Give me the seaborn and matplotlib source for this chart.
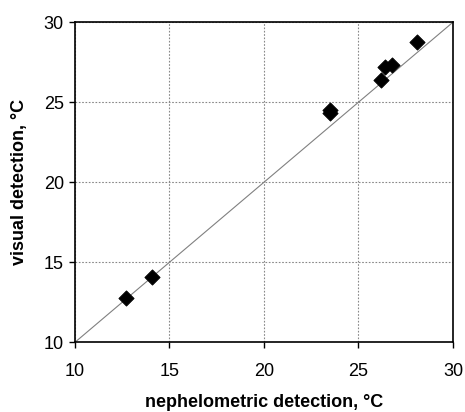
import numpy as np
import pandas as pd
import seaborn as sns
import matplotlib
matplotlib.use("Agg")
import matplotlib.pyplot as plt

nephelometric = [12.7, 14.1, 23.5, 23.5, 26.2, 26.4, 26.8, 28.1]
visual = [12.8, 14.1, 24.3, 24.5, 26.4, 27.2, 27.3, 28.75]

df = pd.DataFrame({"nephelometric": nephelometric, "visual": visual})

sns.set_style("white")
plt.rcParams["font.family"] = ["Liberation Sans", "DejaVu Sans"]
plt.rcParams["text.color"] = "black"
plt.rcParams["axes.labelcolor"] = "black"
plt.rcParams["xtick.color"] = "black"
plt.rcParams["ytick.color"] = "black"

fig = plt.figure(figsize=(4.65, 4.12), dpi=100)
ax = fig.add_axes([0.161, 0.169, 0.813, 0.777])

# 1:1 reference line
ax.plot([10, 30], [10, 30], color="#808080", lw=0.8, zorder=1)
sns.scatterplot(data=df, x="nephelometric", y="visual", marker="D", s=60,
                color="black", edgecolor="black", ax=ax, zorder=3)

ax.set_xlim(10, 30)
ax.set_ylim(10, 30)
ticks = [10, 15, 20, 25, 30]
ax.set_xticks(ticks)
ax.set_yticks(ticks)
ax.tick_params(labelsize=13, length=4, direction="out", width=1,
               bottom=True, left=True)
ax.tick_params(axis="x", pad=11)
ax.tick_params(axis="y", pad=4)
ax.grid(True, linestyle=(0, (1.5, 1.5)), color="#888888", lw=0.8)
for s in ax.spines.values():
    s.set_color("black")
    s.set_linewidth(1.2)

ax.set_xlabel("nephelometric detection, \u00b0C", fontsize=13, fontweight="bold", labelpad=10)
ax.set_ylabel("visual detection, \u00b0C", fontsize=13, fontweight="bold", labelpad=11)

fig.savefig("out.png", dpi=100)
